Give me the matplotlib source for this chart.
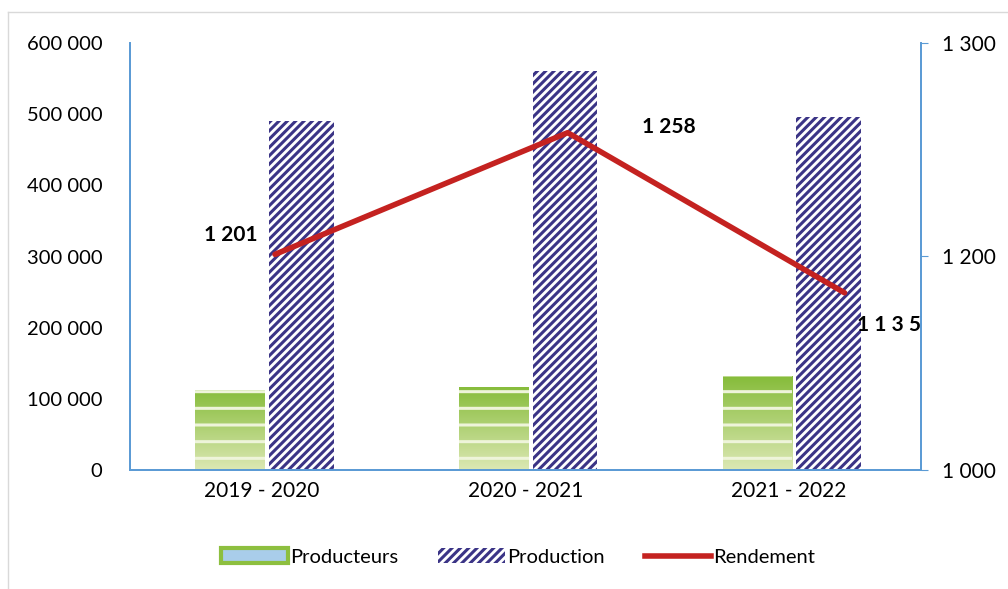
import numpy as np
import matplotlib
matplotlib.use("Agg")
import matplotlib.pyplot as plt
from matplotlib.lines import Line2D
from matplotlib.patches import Patch
from matplotlib.ticker import FixedLocator, FixedFormatter

# data
campagnes = ["2019 - 2020", "2020 - 2021", "2021 - 2022"]
producteurs = [113000, 117000, 132000]
production = [490000, 560000, 496000]
rendement = [1201, 1258, 1183]
rendement_labels = ["1 201", "1 258", "1 1 3 5"]
left_ticks = [0, 100000, 200000, 300000, 400000, 500000, 600000]
left_ticklabels = ["0", "100 000", "200 000", "300 000", "400 000", "500 000", "600 000"]
right_ticks = [1100, 1200, 1300]
right_ticklabels = ["1 000", "1 200", "1 300"]

plt.rcParams["font.family"] = ["Lato", "DejaVu Sans"]
plt.rcParams["hatch.linewidth"] = 2.2

fig = plt.figure(figsize=(10.08, 5.89), dpi=100)
ax = fig.add_axes([130 / 1008, 1 - 470 / 589, (921 - 130) / 1008, (470 - 43) / 589])

x = np.arange(len(campagnes))
blue = "#5B9BD5"

# Producteurs: green gradient bars
w_p = 0.265
xp = x - 0.12
bars_p = ax.bar(xp, producteurs, width=w_p, color="none", edgecolor="none", zorder=2)
grad = np.linspace(0, 1, 256).reshape(-1, 1)
cmap = matplotlib.colors.LinearSegmentedColormap.from_list("g", ["#DCE8B4", "#86BC3A"])
for b in bars_p:
    im = ax.imshow(grad, cmap=cmap, aspect="auto", origin="lower",
                   extent=[b.get_x(), b.get_x() + b.get_width(), 0, b.get_height()], zorder=2)
    im.set_clip_path(b)
ax.bar(xp, producteurs, width=w_p, color="none", edgecolor="#EEF4DA", hatch="-", linewidth=0, zorder=3)

# Production: hatched bars
ax.bar(x + 0.15, production, width=0.245, color="white", edgecolor="#3B3486",
       hatch="////", linewidth=0, zorder=2)

ax.set_xlim(-0.5, 2.5)
ax.set_ylim(0, 600000)
ax.yaxis.set_major_locator(FixedLocator(left_ticks))
ax.yaxis.set_major_formatter(FixedFormatter(left_ticklabels))
ax.set_xticks(x)
ax.set_xticklabels(campagnes)
ax.tick_params(axis="y", length=0, labelsize=14.5, colors="black", pad=20)
ax.tick_params(axis="x", length=0, labelsize=15, colors="black", pad=8)
ax.spines["top"].set_visible(False)
for s in ["left", "right", "bottom"]:
    ax.spines[s].set_color(blue)
    ax.spines[s].set_linewidth(1.3)

# Rendement on secondary axis
ax2 = ax.twinx()
ax2.set_ylim(1100, 1300)
ax2.yaxis.set_major_locator(FixedLocator(right_ticks))
ax2.yaxis.set_major_formatter(FixedFormatter(right_ticklabels))
ax2.tick_params(axis="y", length=5, color=blue, labelsize=15, pad=10)
ax2.spines["top"].set_visible(False)
for s in ["left", "right", "bottom"]:
    ax2.spines[s].set_color(blue)
    ax2.spines[s].set_linewidth(1.3)
line_x = x + np.array([0.05, 0.16, 0.21])
ax2.plot(line_x, rendement, color="#C42220", linewidth=4, solid_capstyle="round", zorder=5)
label_offsets = [(-32, 14), (73, 4), (32, -23)]
for xi, yi, lab, off in zip(line_x, rendement, rendement_labels, label_offsets):
    ax2.annotate(lab, (xi, yi), xytext=off, textcoords="offset points",
                 ha="center", va="center", fontsize=15, fontweight="bold")

# legend
handles = [
    Patch(facecolor="#A9CDEA", edgecolor="#8DBF3F", linewidth=3),
    Patch(facecolor="white", edgecolor="#3B3486", hatch="////", linewidth=0),
    Line2D([0], [0], color="#C42220", linewidth=4),
]
fig.legend(handles, ["Producteurs", "Production", "Rendement"], loc="center",
           bbox_to_anchor=(0.514, 1 - 557 / 589), ncol=3, frameon=False, fontsize=14.5,
           handlelength=3.3, handletextpad=0.1, columnspacing=2.0)

# outer chart border
fig.add_artist(Line2D([8 / 1008, 1], [1 - 12 / 589, 1 - 12 / 589], color="#D9D9D9", lw=1))
fig.add_artist(Line2D([8 / 1008, 8 / 1008], [0, 1 - 12 / 589], color="#D9D9D9", lw=1))

fig.savefig("out.png", dpi=100)
